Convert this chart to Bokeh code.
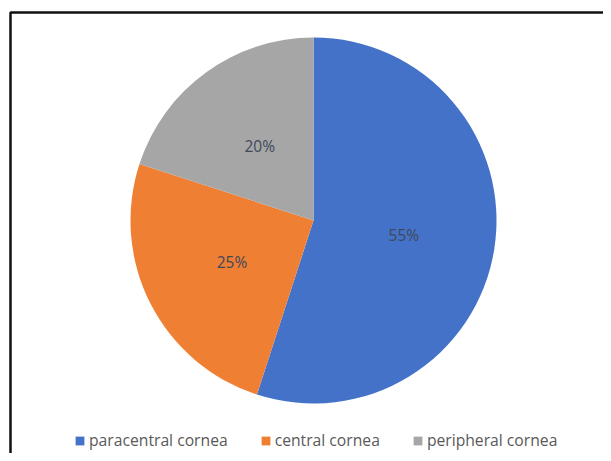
from bokeh.plotting import figure
from bokeh.models import Range1d, Legend, LegendItem, ColumnDataSource
from bokeh.embed import file_html
from bokeh.resources import INLINE
from bokeh.core.properties import value
import math

categories = ["paracentral cornea", "central cornea", "peripheral cornea"]
shares = [55, 25, 20]
colors = ["#4472C9", "#EF7F33", "#A6A6A6"]

W, H = 603, 453
p = figure(width=W, height=H, output_backend="svg", toolbar_location=None,
           x_range=Range1d(0, W), y_range=Range1d(0, H),
           min_border=0, outline_line_color=None)
p.axis.visible = False
p.grid.visible = False
p.background_fill_color = "white"

cx, cy, r = 313, 233, 183
total = sum(shares)
starts, ends, lx, ly, labels = [], [], [], [], []
cum = 0
for s in shares:
    a0 = math.pi / 2 - cum / total * 2 * math.pi
    cum += s
    a1 = math.pi / 2 - cum / total * 2 * math.pi
    starts.append(a0)
    ends.append(a1)
    mid = (a0 + a1) / 2
    lx.append(cx + 0.5 * r * math.cos(mid))
    ly.append(cy + 0.5 * r * math.sin(mid))
    labels.append(f"{round(s / total * 100)}%")

items = []
for i, cat in enumerate(categories):
    rr = p.wedge(x=cx, y=cy, radius=r, start_angle=starts[i], end_angle=ends[i],
                 direction="clock", fill_color=colors[i], line_color=None)
    items.append(LegendItem(label=cat, renderers=[rr]))

src = ColumnDataSource(dict(x=lx, y=ly, t=labels))
p.text(x="x", y="y", text="t", source=src, text_align="center", text_baseline="middle",
       text_font=value("Open Sans"), text_font_size="15.5px", text_color="#404858")

# chart frame border
p.line(x=[10, 10, 640], y=[-20, 441, 441], line_color="#111111", line_width=2.5)

legend = Legend(items=items, orientation="horizontal", location=(74, 2),
                label_text_font="Open Sans", label_text_font_size="15.7px",
                label_text_color="#595959", glyph_width=11, glyph_height=11,
                label_standoff=4, spacing=32, padding=0, margin=0,
                border_line_color=None, background_fill_alpha=0)
p.add_layout(legend, "center")

open("out.html", "w").write(file_html(p, INLINE))
